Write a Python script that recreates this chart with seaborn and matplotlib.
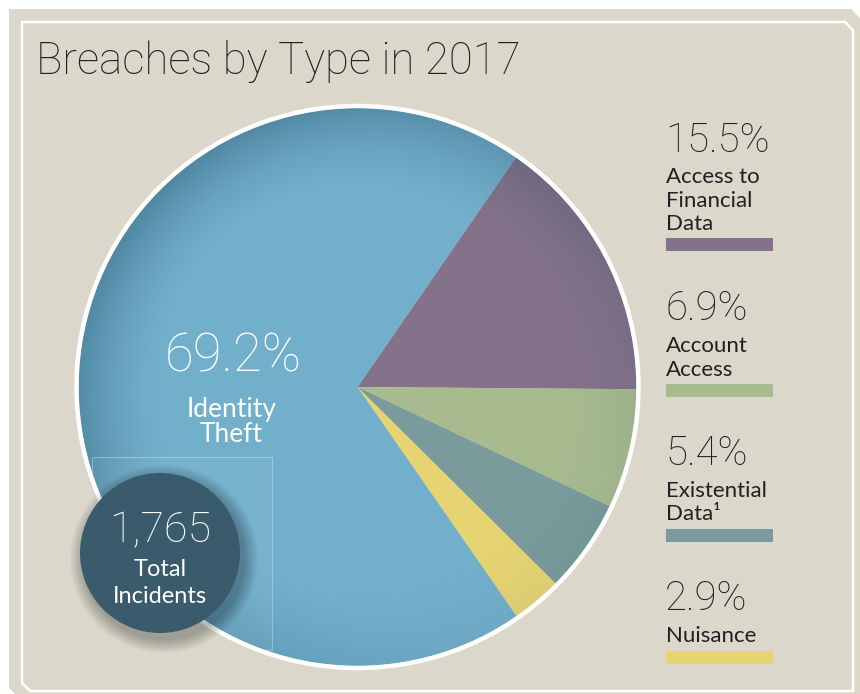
import numpy as np
import matplotlib
matplotlib.use("Agg")
import matplotlib.pyplot as plt
from matplotlib.patches import Circle, Polygon, Rectangle
import seaborn as sns

# ---- data ----
categories = ["Access to Financial Data", "Account Access", "Existential Data", "Nuisance", "Identity Theft"]
shares = [15.5, 6.9, 5.4, 2.9, 69.2]
pct_labels = ["15.5%", "6.9%", "5.4%", "2.9%", "69.2%"]
legend_labels = ["Access to\nFinancial\nData", "Account\nAccess", "Existential\nData\u00b9", "Nuisance"]
total_incidents = "1,765"
title = "Breaches by Type in 2017"

colors = sns.color_palette(["#84728a", "#a8bb8f", "#799b9b", "#e6d473", "#72afcb"])

sns.set_style("white")
plt.rcParams["font.family"] = ["Lato", "DejaVu Sans"]
NUMFONT = ["Roboto", "DejaVu Sans"]

W, H = 860, 694
fig = plt.figure(figsize=(W / 100, H / 100), dpi=100)
fig.patch.set_facecolor("white")
ax = fig.add_axes([0, 0, 1, 1])

def Y(y):
    return H - y

BG = "#dbd8cb"
TXT = "#231f20"

# frame
outer = [(9, 9), (851, 9), (860, 18), (860, 694), (15, 694), (9, 688)]
ax.add_patch(Polygon([(x, Y(y)) for x, y in outer], closed=True, fc=BG, ec="none", zorder=0))
inner = [(22, 22), (845, 22), (853, 30), (853, 691), (30, 691), (22, 683)]
ax.add_patch(Polygon([(x, Y(y)) for x, y in inner], closed=True, fc="none", ec="white", lw=1.8, zorder=1))

# pie
cx, cy, r = 357.5, Y(387), 279
wedges, _ = ax.pie(shares, colors=colors, startangle=55.4, counterclock=False,
                   center=(cx, cy), radius=r, wedgeprops=dict(linewidth=0))
for w in wedges:
    w.set_zorder(2)

# subtle inner shading on the pie edge (darker toward upper-left rim)
n = 400
gx = np.linspace(cx - r, cx + r, n)
gy = np.linspace(cy - r, cy + r, n)
GX, GY = np.meshgrid(gx, gy)
d = np.sqrt((GX - cx) ** 2 + (GY - cy) ** 2) / r
ang = np.arctan2(GY - cy, GX - cx)
dirw = 0.5 + 0.5 * np.cos(ang - np.deg2rad(140))
alpha = np.clip((d - 0.72) / 0.28, 0, 1) ** 1.5 * (0.05 + 0.35 * dirw)
img = np.zeros((n, n, 4))
img[..., 0] = 0.12
img[..., 1] = 0.30
img[..., 2] = 0.40
img[..., 3] = alpha
im = ax.imshow(img, extent=(cx - r, cx + r, cy - r, cy + r), origin="lower", zorder=3,
               interpolation="bilinear")
im.set_clip_path(Circle((cx, cy), r, transform=ax.transData))

# faint rectangle
rect = Rectangle((92, Y(650)), 272 - 92, 650 - 457, fc=(1, 1, 1, 0.04), ec=(1, 1, 1, 0.3), lw=0.8, zorder=4)
ax.add_patch(rect)
rect.set_clip_path(Circle((cx, cy), r, transform=ax.transData))

# white rim
ax.add_patch(Circle((cx, cy), r + 2, fc="none", ec="white", lw=3.2, zorder=5))

# dark circle with shadow
dcx, dcy, dr = 160, Y(553), 80
for i in range(12):
    ax.add_patch(Circle((dcx + 4, dcy - 6), dr + 14 - i * 1.2, fc="black", ec="none", alpha=0.025, zorder=6))
ax.add_patch(Circle((dcx, dcy), dr, fc="#395b6b", ec="none", zorder=7))

# texts on pie
ax.text(233, Y(371), pct_labels[4], color="white", fontsize=38, fontweight="light", family=NUMFONT,
        ha="center", va="baseline", zorder=8)
ax.text(232, Y(417), "Identity", color="white", fontsize=19, ha="center", va="baseline", zorder=8)
ax.text(231, Y(442), "Theft", color="white", fontsize=19, ha="center", va="baseline", zorder=8)
ax.text(160, Y(542), total_incidents, color="white", fontsize=31, fontweight="light", family=NUMFONT,
        ha="center", va="baseline", zorder=8)
ax.text(160, Y(576), "Total", color="white", fontsize=17, ha="center", va="baseline", zorder=8)
ax.text(160, Y(603), "Incidents", color="white", fontsize=17, ha="center", va="baseline", zorder=8)

# title
ax.text(36, Y(74), title, color=TXT, fontsize=31.5, fontweight="light", family=NUMFONT,
        ha="left", va="baseline", zorder=8)

# right-side legend
pct_base = [152, 320, 465, 610]
label_base = [[183, 207, 230], [352, 376], [497, 520], [642]]
bar_top = [238, 384, 529, 651]
for i in range(4):
    ax.text(665, Y(pct_base[i]), pct_labels[i], color=TXT, fontsize=29, fontweight="light", family=NUMFONT,
            ha="left", va="baseline", zorder=8)
    for line, yb in zip(legend_labels[i].split("\n"), label_base[i]):
        ax.text(666, Y(yb), line, color=TXT, fontsize=16, ha="left", va="baseline", zorder=8)
    ax.add_patch(Rectangle((666, Y(bar_top[i] + 13)), 107, 13, fc=colors[i], ec="none", zorder=8))

ax.set_xlim(0, W)
ax.set_ylim(0, H)
ax.set_aspect("auto")
ax.axis("off")

fig.savefig("out.png", dpi=100, facecolor="white")
